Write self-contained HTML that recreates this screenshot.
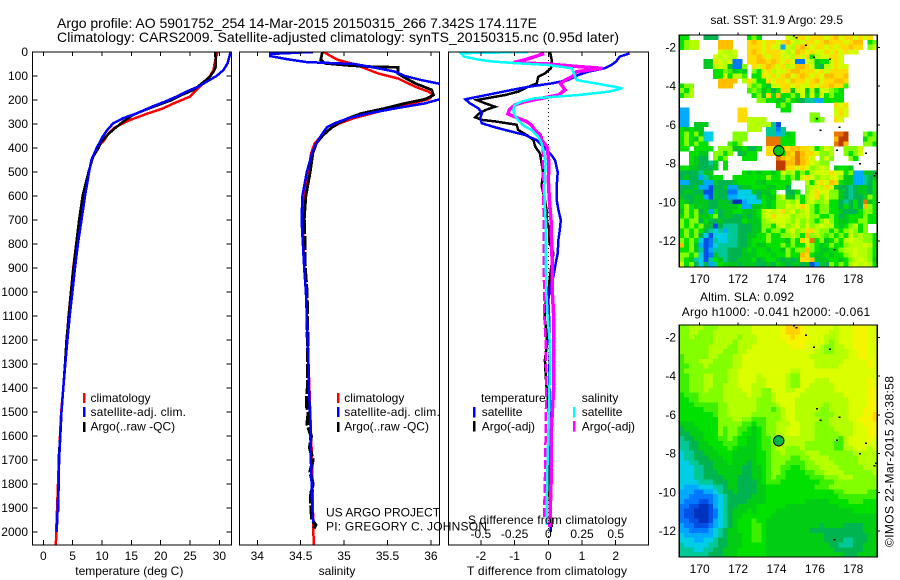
<!DOCTYPE html>
<html>
<head>
<meta charset="utf-8">
<title>Argo profile</title>
<style>
html,body{margin:0;padding:0;background:#fff;}
svg{display:block;}
text{font-family:"Liberation Sans",sans-serif;font-size:12px;fill:#000;}
</style>
</head>
<body>
<svg id="fig" xmlns="http://www.w3.org/2000/svg" width="900" height="580" viewBox="0 0 900 580">
<rect width="900" height="580" fill="#fff"/>
<defs>
<clipPath id="clip1"><rect x="32.5" y="52" width="199" height="493"/></clipPath>
<clipPath id="clip2"><rect x="239.5" y="52" width="200" height="493"/></clipPath>
<clipPath id="clip3"><rect x="448.5" y="52" width="200" height="493"/></clipPath>
</defs>
<text x="57" y="28" style="font-size:14px" textLength="480" lengthAdjust="spacing">Argo profile: AO 5901752_254 14-Mar-2015 20150315_266 7.342S 174.117E</text>
<text x="57" y="42" style="font-size:14px" textLength="562" lengthAdjust="spacing">Climatology: CARS2009. Satellite-adjusted climatology: synTS_20150315.nc (0.95d later)</text>
<g id="g1"></g>
<g id="g2"></g>
<g id="g3"></g>
<g id="g4"></g>
<g id="g5"></g>

<text x="129.3" y="575" text-anchor="middle">temperature (deg C)</text>
<text x="337" y="575" text-anchor="middle">salinity</text>
<text x="467" y="575" textLength="160" lengthAdjust="spacing">T difference from climatology</text>
<text x="468" y="524" textLength="159" lengthAdjust="spacing">S difference from climatology</text>

<g>
<rect x="83" y="393" width="2.5" height="10" fill="#f00"/>
<rect x="83" y="407" width="2.5" height="10" fill="#00f"/>
<rect x="83" y="422" width="2.5" height="10" fill="#000"/>
<text x="90.5" y="402">climatology</text>
<text x="90.5" y="416" textLength="95.5" lengthAdjust="spacing">satellite-adj. clim.</text>
<text x="90.5" y="430.5">Argo(..raw -QC)</text>
</g>
<g>
<rect x="337" y="393" width="2.5" height="10" fill="#f00"/>
<rect x="337" y="407" width="2.5" height="10" fill="#00f"/>
<rect x="337" y="422" width="2.5" height="10" fill="#000"/>
<text x="344.3" y="402">climatology</text>
<text x="344.3" y="416" textLength="95.5" lengthAdjust="spacing">satellite-adj. clim.</text>
<text x="344.3" y="430.5">Argo(..raw -QC)</text>
</g>
<g>
<text x="481" y="402">temperature</text>
<text x="581.7" y="402">salinity</text>
<rect x="473" y="407" width="2.5" height="10.5" fill="#00f"/>
<rect x="473" y="421" width="2.5" height="10.5" fill="#000"/>
<rect x="573" y="407" width="2.5" height="10.5" fill="#0ff"/>
<rect x="573" y="421" width="2.5" height="10.5" fill="#f0f"/>
<text x="481.7" y="416">satellite</text>
<text x="481.7" y="430.5">Argo(-adj)</text>
<text x="581.7" y="416">satellite</text>
<text x="581.7" y="430.5">Argo(-adj)</text>
</g>
<text x="326" y="516.5">US ARGO PROJECT</text>
<text x="326" y="530.5" textLength="161" lengthAdjust="spacing">PI: GREGORY C. JOHNSON</text>

<text x="776.7" y="24" text-anchor="middle">sat. SST: 31.9 Argo: 29.5</text>
<text x="700" y="301" textLength="94" lengthAdjust="spacing">Altim. SLA: 0.092</text>
<text x="681.7" y="316" textLength="188.5" lengthAdjust="spacing">Argo h1000: -0.041 h2000: -0.061</text>
<text transform="translate(893.5,547) rotate(-90)" textLength="171" lengthAdjust="spacing">©IMOS 22-Mar-2015 20:38:58</text>
</svg>
<script>
// ---- panel tick labels ----
const depthTicks = [0,100,200,300,400,500,600,700,800,900,1000,1100,1200,1300,1400,1500,1600,1700,1800,1900,2000];
const tempTicks = [0,5,10,15,20,25,30];
const salTicks = [34,34.5,35,35.5,36];
const tDiffTicks = [-2,-1,0,1,2];
const sDiffTicks = [-0.5,-0.25,0,0.25,0.5];
const lonTicks = [170,172,174,176,178];
const latTicks = [-2,-4,-6,-8,-10,-12];

// ---- temperature profiles ----
const tempClimDepth = [0,33,75,100,130,158,186,214,235,258,283,314,339,367,400,450,500,600,700,800,900,1000,1100,1200,1300,1400,1500,1600,1700,1800,1900,2000,2054];
const tempClimValue = [29.7,29.3,29,28.4,27.3,26.1,25,22.2,20.4,17.6,14.8,12.2,11.1,10.4,9.1,8.2,7.8,6.8,6.2,5.6,5.1,4.7,4.3,4.0,3.7,3.4,3.05,2.85,2.65,2.5,2.35,2.2,2.15];
const tempSatDepth = [0,47,75,100,124,144,165,186,207,228,256,276,297,325,353,400,450,500,600,700,800,900,1000,1100,1200,1300,1400,1500,1600,1700,1800,1900,2000];
const tempSatValue = [31.9,31.4,30.7,29.5,27.8,26.4,24.4,22.7,20.7,18.5,15.9,13.6,11.9,10.9,10.1,9.1,8.2,7.8,7.1,6.5,5.9,5.4,4.95,4.5,4.1,3.75,3.4,3.1,2.9,2.7,2.6,2.45,2.28];
const tempArgoDepth = [0,61,82,103,131,158,179,200,221,242,262,290,318,346,374,400,436,500,600,700,800,900,1000,1100,1200,1300,1400,1500,1600,1700,1800,1900,1915];
const tempArgoValue = [29.3,29.4,29,28.4,27,25.6,23.6,21.9,19.6,17.3,15.3,13.6,12.2,10.9,9.9,9.4,8.5,7.7,6.7,6.1,5.6,5.15,4.7,4.35,3.95,3.7,3.4,3.1,2.9,2.6,2.6,2.55,2.5];

// ---- salinity profiles ----
const salClimDepth = [0,12,33,50,68,89,110,145,165,179,197,214,235,256,276,297,314,346,381,422,500,600,700,800,900,1000,1100,1200,1300,1400,1500,1600,1700,1800,1900,2054];
const salClimValue = [34.77,34.82,34.93,35.11,35.24,35.39,35.62,35.82,35.97,36.03,35.97,35.78,35.55,35.32,35.11,34.95,34.86,34.75,34.66,34.62,34.59,34.55,34.53,34.53,34.54,34.56,34.57,34.58,34.59,34.6,34.61,34.62,34.63,34.635,34.64,34.65];
const salSatDepth = [0,8,17,31,42,50,68,82,100,117,131,158,197,214,235,256,276,297,314,346,381,422,500,600,700,800,900,1000,1100,1200,1300,1400,1500,1600,1700,1800,1900,1960];
const salSatValue = [34.64,34.15,34.15,34.36,34.57,35.12,35.39,35.59,35.70,35.89,36.08,36.45,36.10,35.93,35.59,35.28,35.05,34.89,34.80,34.74,34.68,34.63,34.57,34.52,34.51,34.525,34.54,34.56,34.57,34.58,34.59,34.595,34.607,34.618,34.618,34.626,34.633,34.645];
const salArgoDepth = [0,33,47,56,61,64,89,103,131,158,179,197,214,235,256,276,297,314,346,381,422,500,600,700];
const salArgoValue = [34.75,34.73,34.78,35.05,35.28,35.62,35.62,35.68,35.82,36.01,36.03,35.93,35.70,35.47,35.20,35.05,34.93,34.86,34.76,34.68,34.64,34.61,34.56,34.54];
const salArgoDeepDepth = [700,800,900,1000,1100,1200,1300,1400,1430,1480,1500,1550,1600,1650,1700,1750,1800,1850,1900,1950,1970,1985];
const salArgoDeepValue = [34.54,34.545,34.55,34.57,34.575,34.58,34.58,34.58,34.57,34.57,34.59,34.575,34.62,34.605,34.64,34.61,34.64,34.615,34.62,34.63,34.67,34.65];

// ---- differences from climatology ----
const dTempSatDepth = [6,19,40,54,68,82,96,117,131,145,158,172,186,197,214,235,256,276,297,314,332,346,367,394,422,450,500,561,617,658,700,742,783,839,881,936,978,1033,1100,1172,1256,1353,1450,1600,1800,2000];
const dTempSatValue = [2.41,2.12,2.01,1.87,1.67,1.18,.89,.59,.10,-.59,-1.08,-1.58,-2.07,-2.46,-2.32,-2.07,-1.97,-2.02,-1.97,-1.57,-1.08,-.69,-.34,-.15,.05,.2,.28,.25,.25,.3,.37,.34,.30,.28,.22,.15,.05,0,.02,.02,.05,.02,.05,.05,.06,.07];
const dTempArgoDepth = [0,33,68,89,103,131,145,165,179,200,214,228,242,258,272,283,289,303,325,346,367,394,422,464,506,556,617,658,700,742,790,839,881,936,978,1061,1117,1172,1228,1283,1339,1400,1500,1650,1840,1980];
const dTempArgoValue = [.05,.1,.08,-.1,-.3,-.34,-.59,-.89,-1.28,-2.12,-1.87,-1.58,-1.87,-2.07,-2.17,-1.97,-1.58,-.94,-.89,-.64,-.44,-.39,-.25,-.2,-.15,-.2,-.1,-.05,-.05,.03,.03,.15,.1,.05,.02,-.1,-.1,-.05,-.05,-.1,-.08,-.05,.02,.03,.03,.1];
const dSalSatDepth = [0,5,19,31,39,47,54,68,89,117,131,151,165,179,193,207,221,242,262,283,304,325,353,381,422,464,506,575,644,700,800,900,1000,1100,1200,1300,1400,1500,1700,1900,1970];
const dSalSatValue = [-.15,-.65,-.625,-.525,-.425,-.225,0,.175,.19,.21,.35,.55,.45,.225,-.1,-.2,-.25,-.26,-.25,-.225,-.19,-.125,-.075,-.05,-.03,-.02,-.025,-.03,-.025,-.02,-.02,-.018,-.015,-.005,.01,.015,.008,.005,-.005,-.012,-.012];
const dSalArgoDepth = [6,19,33,44,50,61,68,75,82,103,117,131,158,179,193,207,221,242,258,276,290,304,325,346,367,394,464,533,617,700,800,900,1000,1100,1200,1300,1400,1500,1600,1700,1800,1900,1980];
const dSalArgoValue = [-.03,-.1,-.175,-.26,0,.225,.4,.3,.21,.175,.125,.09,.125,.075,-.05,-.175,-.25,-.29,-.3,-.225,-.16,-.125,-.1,-.06,-.05,-.01,.005,0,.008,.02,.025,.03,.03,.04,.04,.04,.04,.03,.02,.02,.02,.015,.012];
const dSalRawDepth = [350,400,500,600,700,800,900,1000,1100,1200,1400,1600,1800,1950];
const dSalRawValue = [-.05,-.042,-.04,-.036,-.035,-.035,-.035,-.03,-.03,-.02,-.015,-.02,-.025,-.032];

// ---- sea-surface temperature anomaly levels (41 columns by 48 rows, '.' = no data) ----
const sstRows = [
"88...666.. ....8a8... ..cbddcddd cdecddcdcd.",
"8abb....ee e...dedcdd cdecbcddcd edddcdee.8a",
"8abb....ee e...dddcdc c3cbdedcdd cdcddedd.ac",
"........cb bc..dedcdd dcbcedcdcc dcdcdcc....",
".......cbc bb..ddedcd dccbdcd8bc cddc.......",
".....77dcb c22.ddeede dcdc22cb78 8cdc.......",
".....77bcb 722a.dcded cdbceedc76 bcdcc......",
".......88a 9787.a8cdb ccdeedddcd cdddd......",
".......88c 8bb9.88dcd cdecdedcdc eedde......",
"........ee ee.bdb88dc ddceddcdec ddeed......",
"8aa.....ee e...b9a87c cddcdccdcd dedd9......",
"a8b....... ....9a9786 8dd7cc7b7c ca98.......",
"8ab....... .....8a7d8 e88a8c8c8c 8a88.......",
".......... ......aa88 77a8765533 8888.......",
".......... .......... 8a8....... ..dcd......",
"33........ ..dd...... .88....... ..cdc......",
"33........ ..dd...... .......aa. ..cdc......",
"33........ ..ddbbbb.. .......a9a ..dc.......",
"33.777.... ....bbbbb5 1......... ...........",
"87877..... ....bbb.55 25........ ...........",
"8a8a744... .aaa....55 3578...... ..ffg...a8a",
"8a87a44... .aaa....ff f888...... ..egg...8aa",
"8a8a88.... 98a.....ff f888...... ..fge...aa8",
"88.8888.aa a778668.dd 8edeeddc8a cb..aaac...",
"..8877.aa8 a.6788..dd d8edfeddca ab..a8ac...",
"..8766.a8a ...888.... fedefedc.a ca...a8....",
"..876657.8 .......... ggeefedcba a..........",
"88776667.8 .......... ggddcdcabc b.7887.....",
"6666577... ...8787887 8cab8a8bcc cdcc8a33776",
"676635788. .8888888a8 8a8a8cdcab bcca7733567",
"3366633766 6788887788 888...b8cd ced87733568",
"6667331667 3367788877 886...abcb dc766567768",
"6776611766 2244476778 ..668.acdc caa76567768",
"7667731766 3344446877 ac77a8bcda caa765667a8",
"8767776677 6003444878 aabac8bcaa b8865686f78",
"8a87776677 7783377878 aacbcdca8a a8868686ea8",
"7a8a673867 7887778bcb cdbcabca8a a8876668aa8",
"8a8a778a67 7667678bcd cccabbcaa8 8a867888a88",
"a8aa686676 6668777abc ccbacaba8a ca87788aa88",
"a8a8a76165 5566677aa8 bcabcacabc bb878ab8a..",
"8a8a865453 5566677a8a a8bcabddba a8a8aba8a..",
"8a8a641444 55667788a8 8aaba8eaba 9a8a8cabaa8",
"a8a8412544 55667888a8 887a8dcf8a 78a8bcbbaa8",
"e8a7312455 5566787788 8a8a88ca87 8a88abbbcb8",
"88a7513555 6667878878 87a8aaea87 788abbcbba8",
"aa8a412755 6667778887 88a88ed877 8788abcbba8",
"a875415875 6677786788 76767dde77 78878abcba7",
"c8a6463587 7767776676 8767767137 6a8a8bcbcb8"
];

// ---- altimetric sea-level anomaly levels (41 columns by 48 rows) ----
const slaRows = [
"aabbbaaabb bbbbbccccc cdeeedcccc ccbcccdddcc",
"aabbaaabbb bbbbbccccc cdeeedcccc cbbcccdddcc",
"aabaaaabbb bbabbbcccc cddedddccc bbbcccdddcc",
"aaaaaaabbb babbbbcccc ccddddcccc babcccdddcc",
"aaaaaabbbb aabbbccccc cccdddcccb aabbccdddcc",
"aaaaaabbba aabbcccccc ccccccccbb aabbbccddcc",
"9aaaaabbaa abbccccccc cccccccbbb bbbbbccddcc",
"9aaabbbaaa abbccccccc ccccccccbb bbbbcccccdc",
"99aaabaaaa abbccccccc ccccccccbb bbbccccccdc",
"9aaaaaaaaa bbcccccccc cccbbccccc ccccccccccc",
"99aaabbaaa bbccccbccc ccbaaccccc ccccccccccc",
"99aaabbaaa bbccccbbcc ccbaacccbb bccccccccdc",
"99aaabbaab bbcccbbbcc ccbaaccbbb bbcccccccdc",
"99aaabaaab bbbccbbaac ccbbccbbbb bbcccccccdd",
"8999aaaaab bbbbcbbaab cccccbbbbb bbbbcccccdd",
"8899aaaaab bbbbbbaaab ccccbbbbbb bbbbbccccdd",
"88899999aa bbbbbbaaaa bcccbbbbbb abbbbccccdd",
"88888999aa bbbbbbaaa9 abccbbbbba abbbbcccddd",
"88888889aa bbbbbaaaaa abccbbbbaa aabbbcccdde",
"88888888aa abbaa999aa abccbbbbba abbbbccddde",
"77788888aa aaa99899aa bbbccbbbaa abbbbbccddd",
"67778888a9 aa998789aa bbcccbbbaa aabbbbcccdd",
"66777888a9 aa988789aa bbcccbbbaa aaabbbcccdd",
"5667788899 a98877899a bbbbbbbbaa aaa9bccccdc",
"5566778889 998877899a bbbbbbaaaa aa99bcccccc",
"5566777888 987777899a bbaaabaaaa aa99bbcccbc",
"4556677788 877777889a abaaaabbba aaaaaabbbbb",
"4556667778 877777889a aaa99aabbb baaaaaabbbb",
"4455666777 877767889a aa9999aabb bbaaaaabbbb",
"4445566777 777667789a a99889aaab bbbaaaaabbb",
"4445566677 777667789a a9888899aa bbbbaaaaaab",
"4445566667 776667789a 9988888999 aaabbbaaaaa",
"4444555666 7766667899 9888888889 99aaaaaaaaa",
"4333444556 7766667788 8888888899 9aaaaaaaaaa",
"3332233456 6766667788 8888888888 8899aaaaa99",
"3322222345 6666677788 8888888888 88899999999",
"3222112345 6666777788 8888887777 78888999888",
"2211001345 6677778888 8877777777 77788888888",
"2110001245 6777878888 7777777777 77777788888",
"2110001245 6778888887 7777777777 77777777777",
"2211001345 6788898877 7777777777 77777777777",
"3221112345 6788899877 7777777776 77776666777",
"3322223456 7788899877 7777777666 66666666777",
"4333333456 7778899877 7777777777 66666666677",
"4443344566 7778899877 7777777777 66665566677",
"5444445566 7778888877 7777777777 76655566777",
"5554455667 7788888877 7777777777 77666666777",
"5555556667 7788888877 7777777777 77776667777"
];

// ---- small islands and float position ----
const islandLon = [174.91,175.05,175.54,175.95,176.79,176.11,176.30,177.27,177.14,178.66,178.35,179.18,179.11,177.01];
const islandLat = [-1.41,-1.50,-1.88,-2.52,-2.62,-5.68,-6.29,-6.13,-7.30,-7.47,-8.02,-8.51,-8.64,-12.46];
const floatLon = [174.117];
const floatLat = [-7.342];

const sstColors = {
 '0':'#0032be','1':'#0050e6','2':'#0078ff','3':'#00aaff','4':'#00cde6','5':'#00c896','6':'#00b450',
 '7':'#00c81e','8':'#00e100','9':'#3cf000','a':'#82ff00','b':'#b4ff00','c':'#d2ff00','d':'#ffdc00',
 'e':'#ffbe00','f':'#e67800','g':'#be3c00'
};
const slaColors = {
 '0':'#0032be','1':'#0050e6','2':'#0078ff','3':'#00aaff','4':'#00cde6','5':'#00c896','6':'#00b450',
 '7':'#00cd14','8':'#00e100','9':'#3cf000','a':'#82ff00','b':'#b4ff00','c':'#dcff00','d':'#f5f500',
 'e':'#ffd200'
};

const NS = 'http://www.w3.org/2000/svg';
function mk(parent, tag, attrs){
  const el = document.createElementNS(NS, tag);
  for (const k in attrs) el.setAttribute(k, attrs[k]);
  parent.appendChild(el);
  return el;
}
const depthY = d => 52 + 0.24 * d;
const tempX = t => 43.3 + 5.87 * t;
const salX = s => 257.3 + 86.8 * (s - 34);
const tDiffX = t => 548.3 + 33.7 * t;
const sDiffX = s => 548.3 + 134.8 * s;

function tickLine(parent, x1, y1, x2, y2){
  const el = mk(parent, 'line', {x1:x1, y1:y1, x2:x2, y2:y2, stroke:'#000', 'stroke-width':1, 'shape-rendering':'crispEdges'});
  
  
}
function tickLabel(parent, x, y, str, anchor){
  const el = mk(parent, 'text', {x:x, y:y, 'text-anchor':anchor});
  el.textContent = str;
  
  
}
function frame(parent, x, y, w, h){
  const el = mk(parent, 'rect', {x:x, y:y, width:w, height:h, fill:'none', stroke:'#000', 'stroke-width':1.3, 'shape-rendering':'crispEdges'});
  
  
}
function profile(parent, clip, depths, values, xf, color, width, name, dash){
  const pts = depths.map((d, i) => xf(values[i]).toFixed(1) + ',' + depthY(d).toFixed(1)).join(' ');
  const attrs = {points:pts, fill:'none', stroke:color, 'stroke-width':width, 'clip-path':'url(#' + clip + ')', 'shape-rendering':'crispEdges'};
  if (dash) attrs['stroke-dasharray'] = dash;
  const el = mk(parent, 'polyline', attrs);
  
  
}

// temperature panel
const g1 = document.getElementById('g1');
profile(g1, 'clip1', tempClimDepth, tempClimValue, tempX, '#f00', 2.5, 'temperature-climatology-line');
profile(g1, 'clip1', tempArgoDepth, tempArgoValue, tempX, '#000', 2.5, 'temperature-argo-line');
profile(g1, 'clip1', tempSatDepth, tempSatValue, tempX, '#00f', 2.5, 'temperature-satellite-line');
frame(g1, 32.5, 52, 199, 493);
depthTicks.forEach(d => {
  tickLine(g1, 32.5, depthY(d), 37.5, depthY(d));
  tickLine(g1, 226.5, depthY(d), 231.5, depthY(d));
  tickLabel(g1, 28, depthY(d) + 4, String(d), 'end');
});
tempTicks.forEach(t => {
  tickLine(g1, tempX(t), 52, tempX(t), 56);
  tickLine(g1, tempX(t), 540, tempX(t), 545);
  tickLabel(g1, tempX(t), 560, String(t), 'middle');
});

// salinity panel
const g2 = document.getElementById('g2');
profile(g2, 'clip2', salClimDepth, salClimValue, salX, '#f00', 2.5, 'salinity-climatology-line');
profile(g2, 'clip2', salArgoDepth, salArgoValue, salX, '#000', 2.8, 'salinity-argo-line');
profile(g2, 'clip2', salArgoDeepDepth, salArgoDeepValue, salX, '#000', 3.6, 'salinity-argo-deep-line', '14 2');
profile(g2, 'clip2', salSatDepth, salSatValue, salX, '#00f', 2.5, 'salinity-satellite-line');
frame(g2, 239.5, 52, 200, 493);
salTicks.forEach(s => {
  tickLine(g2, salX(s), 52, salX(s), 56);
  tickLine(g2, salX(s), 540, salX(s), 545);
  tickLabel(g2, salX(s), 560, String(s), 'middle');
});

// difference panel
const g3 = document.getElementById('g3');
const zeroLine = mk(g3, 'line', {x1:548.3, y1:52, x2:548.3, y2:545, stroke:'#000', 'stroke-width':1, 'stroke-dasharray':'1 3', 'shape-rendering':'crispEdges'});


profile(g3, 'clip3', dTempArgoDepth, dTempArgoValue, tDiffX, '#000', 2.5, 'temperature-argo-difference-line');
profile(g3, 'clip3', dTempSatDepth, dTempSatValue, tDiffX, '#00f', 2.5, 'temperature-satellite-difference-line');
profile(g3, 'clip3', dSalArgoDepth, dSalArgoValue, sDiffX, '#f0f', 3.5, 'salinity-argo-difference-line');
profile(g3, 'clip3', dSalRawDepth, dSalRawValue, sDiffX, '#f0f', 2.5, 'salinity-argo-raw-difference-line', '9 3');
profile(g3, 'clip3', dSalSatDepth, dSalSatValue, sDiffX, '#0ff', 2.5, 'salinity-satellite-difference-line');
frame(g3, 448.5, 52, 200, 493);
tDiffTicks.forEach(t => {
  tickLine(g3, tDiffX(t), 52, tDiffX(t), 56);
  tickLine(g3, tDiffX(t), 540, tDiffX(t), 545);
  tickLabel(g3, tDiffX(t), 560, String(t), 'middle');
});
sDiffTicks.forEach(s => {
  tickLabel(g3, sDiffX(s), 538, String(s), 'middle');
});

// maps
function drawMap(groupId, rows, palette, top, height, cellName, markerFill){
  const g = document.getElementById(groupId);
  const left = 679.3, width = 198;
  const lonX = lon => 699.7 + 19.2 * (lon - 170);
  const latY = lat => top + 12.3 + 19.37 * (-2 - lat);
  const cw = width / 41, ch = height / 48;
  rows.forEach((row, r) => {
    const chars = row.replace(/ /g, '');
    for (let c = 0; c < chars.length; c++) {
      const v = chars[c];
      if (v === '.') continue;
      const cell = mk(g, 'rect', {x:(left + c * cw).toFixed(2), y:(top + r * ch).toFixed(2), width:(cw + 0.4).toFixed(2), height:(ch + 0.4).toFixed(2), fill:palette[v], 'shape-rendering':'crispEdges'});
      
      
    }
  });
  islandLon.forEach((lon, i) => {
    const isl = mk(g, 'rect', {x:lonX(lon) - 1, y:latY(islandLat[i]) - 0.7, width:2, height:1.5, fill:'#000', 'shape-rendering':'crispEdges'});
    
    
  });
  const marker = mk(g, 'circle', {cx:lonX(floatLon[0]), cy:latY(floatLat[0]), r:5.2, fill:markerFill, stroke:'#000', 'stroke-width':1});
  
  
  frame(g, left, top, width, height);
  lonTicks.forEach(lon => {
    tickLine(g, lonX(lon), top - 2.5, lonX(lon), top);
    tickLabel(g, lonX(lon), top + height + 16, String(lon), 'middle');
  });
  latTicks.forEach(lat => {
    tickLine(g, left + width, latY(lat), left + width + 2.5, latY(lat));
    tickLabel(g, 676, latY(lat) + 4, String(lat), 'end');
  });
}
drawMap('g4', sstRows, sstColors, 35, 232, 'sst-cell', '#00c81e');
drawMap('g5', slaRows, slaColors, 325, 232, 'sla-cell', '#00b450');
</script>
</body>
</html>
